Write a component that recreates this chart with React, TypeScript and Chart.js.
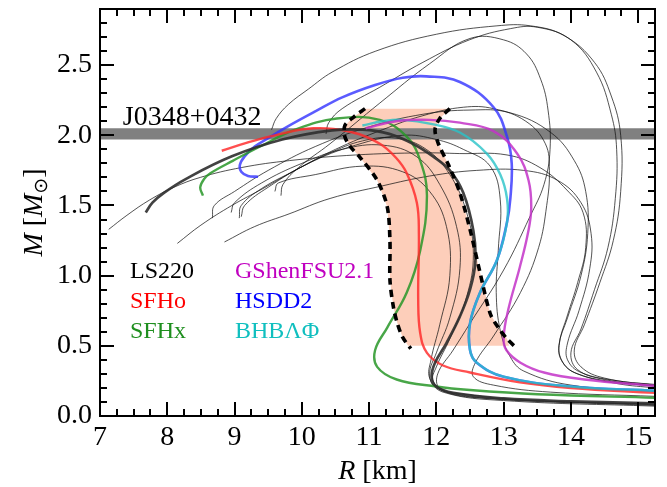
import React, { useEffect, useRef } from 'react';
import { Chart, registerables } from 'chart.js';

Chart.register(...registerables);

type Pt = [number, number];

// ---------- axes ----------
const X_RANGE: Pt = [7, 15.25];
const Y_RANGE: Pt = [0, 2.9];
const X_TICKS = [7, 8, 9, 10, 11, 12, 13, 14, 15];
const Y_TICKS = [0, 0.5, 1.0, 1.5, 2.0, 2.5];
const X_MINOR_STEP = 0.25;
const Y_MINOR_STEP = 0.1;

// ---------- pulsar band ----------
const J0348_BAND: Pt = [1.97, 2.05];
const J0348_LABEL = 'J0348+0432';
const J0348_LABEL_AT: Pt = [7.34, 2.075];

// ---------- highlighted EOS (legend) ----------
const LEGEND_NAMES = ['LS220', 'SFHo', 'SFHx', 'GShenFSU2.1', 'HSDD2', 'BHBΛΦ'];

const LS220: Pt[] = [[7.68,1.45],[7.78,1.52],[7.95,1.59],[8.28,1.69],[8.96,1.85],[9.71,1.97],[10.45,2.035],[10.9,2.04],[11.3,2.01],[11.65,1.94],[11.95,1.85],[12.2,1.75],[12.4,1.59],[12.55,1.32],[12.58,1.1],[12.5,0.9],[12.35,0.71],[12.15,0.52],[11.98,0.38],[11.93,0.28],[12.0,0.21],[12.25,0.165],[13.0,0.125],[14.0,0.105],[15.25,0.09]];
const SFHo: Pt[] = [[8.81,1.89],[9.2,1.95],[9.6,2.0],[10.17,2.05],[10.76,2.02],[11.16,1.94],[11.4,1.84],[11.56,1.73],[11.71,1.52],[11.74,1.3],[11.73,0.83],[11.76,0.59],[11.86,0.45],[12.1,0.36],[12.5,0.31],[13.24,0.24],[14.0,0.2],[15.25,0.165]];
const SFHx: Pt[] = [[8.53,1.57],[8.49,1.63],[8.55,1.69],[8.64,1.73],[8.98,1.82],[9.38,1.92],[9.9,2.04],[10.52,2.12],[11.16,2.11],[11.56,1.99],[11.76,1.82],[11.86,1.57],[11.76,1.18],[11.56,0.88],[11.27,0.63],[11.09,0.47],[11.12,0.35],[11.41,0.26],[12.0,0.21],[12.5,0.185],[13.5,0.155],[15.25,0.13]];
const GShenFSU21: Pt[] = [[10.95,2.05],[11.4,2.1],[11.9,2.11],[12.35,2.09],[12.85,2.03],[13.2,1.87],[13.37,1.68],[13.41,1.48],[13.36,1.3],[13.24,1.06],[13.07,0.76],[13.0,0.56],[13.04,0.47],[13.25,0.38],[13.6,0.31],[14.2,0.26],[15.25,0.215]];
const HSDD2: Pt[] = [[9.35,1.705],[9.2,1.71],[9.1,1.74],[9.08,1.79],[9.15,1.85],[9.3,1.92],[9.5,1.98],[9.78,2.06],[10.2,2.17],[10.6,2.27],[11.1,2.36],[11.5,2.41],[11.85,2.42],[12.35,2.38],[12.85,2.2],[13.05,1.99],[13.12,1.8],[13.1,1.55],[13.05,1.38],[12.9,1.11],[12.65,0.88],[12.5,0.66],[12.5,0.47],[12.6,0.38],[13.0,0.28],[14.0,0.21],[15.25,0.18]];
const BHBLP: Pt[] = [[10.9,2.07],[11.2,2.1],[11.5,2.11],[11.94,2.08],[12.35,2.02],[12.75,1.87],[12.95,1.72],[13.05,1.55],[13.05,1.38],[12.9,1.11],[12.65,0.88],[12.5,0.66],[12.5,0.47],[12.6,0.38],[13.0,0.28],[14.0,0.21],[15.25,0.18]];

// ---------- other EOS (thin black) ----------
const EOS_B1: Pt[] = [[9.55,2.04],[9.62,2.12],[9.8,2.22],[10.1,2.33],[10.45,2.45],[11.1,2.6],[12.0,2.72],[12.9,2.78],[13.4,2.78],[13.9,2.71],[14.35,2.52],[14.6,2.28],[14.74,2.0],[14.74,1.6],[14.63,1.25],[14.43,0.95],[14.2,0.65],[14.05,0.47],[14.15,0.35],[14.5,0.27],[15.25,0.22]];
const EOS_B2: Pt[] = [[10.36,2.01],[10.4,2.09],[10.6,2.19],[11.15,2.34],[11.8,2.52],[12.49,2.68],[13.1,2.76],[13.5,2.77],[14.0,2.68],[14.38,2.45],[14.6,2.15],[14.68,1.9],[14.66,1.55],[14.55,1.2],[14.35,0.9],[14.15,0.62],[14.0,0.45],[14.1,0.33],[14.5,0.26],[15.25,0.21]];
const EOS_B3: Pt[] = [[9.69,1.57],[9.72,1.65],[9.95,1.77],[10.42,1.94],[11.16,2.23],[11.9,2.51],[12.5,2.69],[13.0,2.68],[13.34,2.58],[13.55,2.4],[13.66,2.18],[13.69,1.9],[13.6,1.65],[13.39,1.42],[13.0,1.04],[12.5,0.66],[12.25,0.47],[12.02,0.3],[12.05,0.2],[12.5,0.15],[13.5,0.11],[15.25,0.085]];
const EOS_C: Pt[] = [[9.07,1.41],[9.1,1.5],[9.4,1.62],[9.9,1.75],[10.5,1.9],[11.2,2.04],[11.8,2.14],[12.4,2.2],[12.85,2.19],[13.33,2.1],[13.62,1.94],[13.68,1.75],[13.64,1.5],[13.52,1.2],[13.25,0.88],[12.85,0.57],[12.58,0.38],[12.55,0.28],[12.85,0.22],[13.7,0.17],[15.25,0.14]];
const EOS_E: Pt[] = [[8.67,1.41],[8.7,1.5],[9.0,1.6],[9.5,1.75],[10.2,1.92],[11.0,2.06],[11.8,2.15],[12.5,2.18],[13.1,2.16],[13.7,2.02],[14.05,1.82],[14.22,1.6],[14.25,1.3],[14.15,1.0],[13.95,0.7],[13.82,0.5],[13.88,0.38],[14.1,0.3],[14.7,0.23],[15.25,0.2]];
const EOS_A: Pt[] = [[7.13,1.33],[7.4,1.43],[7.74,1.54],[8.1,1.63],[8.49,1.7],[9.1,1.77],[9.82,1.82],[10.8,1.86],[11.8,1.875],[12.34,1.87],[13.05,1.86],[13.54,1.77],[13.94,1.61],[14.18,1.45],[14.22,1.2],[14.1,0.95],[13.95,0.72],[13.83,0.52],[13.86,0.4],[14.05,0.31],[14.6,0.245],[15.25,0.215]];
const EOS_D: Pt[] = [[8.85,1.24],[9.3,1.35],[9.81,1.44],[10.42,1.55],[11.2,1.64],[11.9,1.71],[12.6,1.75],[13.3,1.75],[13.8,1.68],[14.15,1.52],[14.3,1.3],[14.28,1.05],[14.12,0.75],[13.95,0.52],[13.95,0.4],[14.15,0.31],[14.7,0.25],[15.25,0.225]];
const EOS_MB: Pt[] = [[8.15,1.23],[8.5,1.36],[8.96,1.5],[9.42,1.62],[9.9,1.75],[10.4,1.87],[10.9,1.96],[11.4,1.98],[11.85,1.9],[12.2,1.72],[12.45,1.45],[12.55,1.15],[12.45,0.85],[12.2,0.55],[12.0,0.35],[11.95,0.25],[12.15,0.17],[13.0,0.12],[15.25,0.08]];
const EOS_X1: Pt[] = [[8.95,1.45],[9.0,1.52],[9.4,1.66],[10.0,1.8],[10.6,1.9],[11.2,1.93],[11.7,1.85],[12.05,1.65],[12.3,1.35],[12.35,1.05],[12.2,0.7],[12.0,0.45],[11.9,0.3],[12.0,0.2],[12.6,0.13],[15.25,0.075]];
const EOS_X2: Pt[] = [[9.6,1.6],[9.65,1.66],[10.2,1.72],[10.9,1.78],[11.5,1.74],[11.9,1.6],[12.15,1.35],[12.2,1.0],[12.05,0.65],[11.92,0.4],[11.9,0.27],[12.1,0.17],[13.0,0.11],[15.25,0.07]];
const EOS_X3: Pt[] = [[9.1,1.42],[9.15,1.5],[9.5,1.63],[10.1,1.8],[10.8,1.93],[11.5,2.0],[12.0,1.97],[12.4,1.9],[12.8,1.78],[12.95,1.54],[12.92,1.18],[12.89,0.88],[12.95,0.61],[13.1,0.42],[13.3,0.32],[14.0,0.22],[15.25,0.175]];

// ---------- constraint region ----------
const DASH_LEFT: Pt[] = [[10.94,2.19],[10.77,2.13],[10.64,2.07],[10.64,1.99],[10.72,1.92],[10.87,1.84],[11.12,1.68],[11.27,1.49],[11.31,1.25],[11.31,0.97],[11.36,0.78],[11.42,0.66],[11.5,0.56],[11.62,0.48]];
const DASH_RIGHT: Pt[] = [[12.2,2.19],[12.05,2.12],[11.98,2.04],[12.03,1.94],[12.18,1.79],[12.35,1.59],[12.5,1.33],[12.65,1.02],[12.8,0.73],[12.92,0.63],[13.05,0.55],[13.2,0.48]];
const PINK_MIN_M = 0.5;
const PINK_BOTTOM: Pt[] = [[11.58,0.5],[13.08,0.5]];

const FONT = "'Liberation Serif', 'DejaVu Serif', serif";

const COLORS = {
  LS220: 'rgba(45,45,45,0.9)',
  SFHo: 'rgba(255,40,40,0.82)',
  SFHx: 'rgba(40,150,40,0.85)',
  GShen: 'rgba(195,50,200,0.85)',
  HSDD2: 'rgba(50,50,255,0.8)',
  BHB: 'rgba(40,195,200,0.8)',
  thin: 'rgba(15,15,15,0.8)',
};
const TEXT_COLORS = ['#000000', '#ff0000', '#1f8f1f', '#c000c0', '#0000ff', '#10bfbf'];

const toXY = (arr: Pt[]) => arr.map(([x, y]) => ({ x, y }));

const lineDs = (d: Pt[], color: string, width: number, order: number, extra: any = {}) => ({
  type: 'scatter',
  data: toXY(d),
  showLine: true,
  borderColor: color,
  backgroundColor: color,
  borderWidth: width,
  pointRadius: 0,
  pointHoverRadius: 0,
  tension: 0.4,
  fill: false,
  order,
  ...extra,
});

const decorPlugin = {
  id: 'decor',
  afterDatasetsDraw(chart: any) {
    const { ctx, chartArea: a, scales } = chart;
    const xs = scales.x;
    const ys = scales.y;
    ctx.save();

    // frame
    ctx.strokeStyle = '#000';
    ctx.lineWidth = 2;
    ctx.strokeRect(a.left, a.top, a.right - a.left, a.bottom - a.top);

    // inward ticks on all four sides
    ctx.beginPath();
    const nx = Math.round((X_RANGE[1] - X_RANGE[0]) / X_MINOR_STEP);
    for (let i = 0; i <= nx; i++) {
      const v = X_RANGE[0] + i * X_MINOR_STEP;
      const major = X_TICKS.some((t) => Math.abs(t - v) < 1e-6);
      const len = major ? 14 : 7;
      const px = Math.round(xs.getPixelForValue(v));
      ctx.moveTo(px, a.bottom);
      ctx.lineTo(px, a.bottom - len);
      ctx.moveTo(px, a.top);
      ctx.lineTo(px, a.top + len);
    }
    const ny = Math.round((Y_RANGE[1] - Y_RANGE[0]) / Y_MINOR_STEP);
    for (let i = 0; i <= ny; i++) {
      const v = Y_RANGE[0] + i * Y_MINOR_STEP;
      const major = Y_TICKS.some((t) => Math.abs(t - v) < 1e-6);
      const len = major ? 14 : 7;
      const py = Math.round(ys.getPixelForValue(v));
      ctx.moveTo(a.left, py);
      ctx.lineTo(a.left + len, py);
      ctx.moveTo(a.right, py);
      ctx.lineTo(a.right - len, py);
    }
    ctx.stroke();

    // pulsar label
    ctx.fillStyle = '#000';
    ctx.textBaseline = 'alphabetic';
    ctx.textAlign = 'left';
    ctx.font = `28px ${FONT}`;
    ctx.fillText(J0348_LABEL, xs.getPixelForValue(J0348_LABEL_AT[0]), ys.getPixelForValue(J0348_LABEL_AT[1]));

    // legend (text only, two columns)
    ctx.font = `24px ${FONT}`;
    const colX = [a.left + 30, a.left + 135];
    const rowY = [278, 308, 338];
    LEGEND_NAMES.forEach((name, i) => {
      ctx.fillStyle = TEXT_COLORS[i];
      ctx.fillText(name, colX[Math.floor(i / 3)], rowY[i % 3]);
    });

    // axis titles with mixed styles
    const drawRuns = (runs: { t: string; f: string; dy?: number }[], cx: number, cy: number) => {
      let total = 0;
      for (const r of runs) { ctx.font = r.f; total += ctx.measureText(r.t).width; }
      let x = cx - total / 2;
      for (const r of runs) {
        ctx.font = r.f;
        ctx.fillText(r.t, x, cy + (r.dy || 0));
        x += ctx.measureText(r.t).width;
      }
    };
    ctx.fillStyle = '#000';
    const reg = `28px ${FONT}`;
    const ita = `italic 28px ${FONT}`;
    drawRuns([{ t: 'R', f: ita }, { t: ' [km]', f: reg }], (a.left + a.right) / 2, 479);

    ctx.save();
    ctx.translate(42, (a.top + a.bottom) / 2);
    ctx.rotate(-Math.PI / 2);
    drawRuns([
      { t: 'M', f: ita },
      { t: ' [', f: reg },
      { t: 'M', f: ita },
      { t: '⊙', f: `19px 'DejaVu Sans', ${FONT}`, dy: 5 },
      { t: ']', f: reg },
    ], 0, 0);
    ctx.restore();

    ctx.restore();
  },
};

export default function App() {
  const ref = useRef<HTMLCanvasElement>(null);

  useEffect(() => {
    const canvas = ref.current;
    if (!canvas) return;

    const pinkPoly: Pt[] = [
      ...DASH_LEFT.filter((p) => p[1] >= PINK_MIN_M),
      ...PINK_BOTTOM,
      ...DASH_RIGHT.filter((p) => p[1] >= PINK_MIN_M).reverse(),
    ];

    const thinCurves = [EOS_B1, EOS_B2, EOS_B3, EOS_C, EOS_E, EOS_A, EOS_D, EOS_MB, EOS_X1, EOS_X2, EOS_X3];

    const datasets: any[] = [
      // band top (fills to next dataset)
      lineDs([[X_RANGE[0], J0348_BAND[1]], [X_RANGE[1], J0348_BAND[1]]], 'rgba(0,0,0,0)', 0, 9, {
        fill: '+1', backgroundColor: 'rgb(128,128,128)', tension: 0,
      }),
      lineDs([[X_RANGE[0], J0348_BAND[0]], [X_RANGE[1], J0348_BAND[0]]], 'rgba(0,0,0,0)', 0, 9, { tension: 0 }),
      // pink region
      lineDs(pinkPoly, 'rgba(0,0,0,0)', 0, 10, {
        fill: 'shape', backgroundColor: 'rgb(253,206,186)', tension: 0,
      }),
      ...thinCurves.map((c) => lineDs(c, COLORS.thin, 0.9, 5)),
      lineDs(LS220, COLORS.LS220, 2.7, 2),
      lineDs(SFHo, COLORS.SFHo, 2.4, 2),
      lineDs(SFHx, COLORS.SFHx, 2.4, 2),
      lineDs(HSDD2, COLORS.HSDD2, 2.6, 2),
      lineDs(GShenFSU21, COLORS.GShen, 2.4, 1),
      lineDs(BHBLP, COLORS.BHB, 2.4, 1),
      lineDs(DASH_LEFT, '#000', 3.6, 0, { borderDash: [7, 5], tension: 0.3 }),
      lineDs(DASH_RIGHT, '#000', 3.6, 0, { borderDash: [7, 5], tension: 0.3 }),
    ];

    const chart = new Chart(canvas, {
      type: 'scatter',
      data: { datasets },
      options: {
        animation: false,
        responsive: false,
        devicePixelRatio: 1,
        events: [],
        layout: { padding: { top: 9, right: 12, left: 0, bottom: 0 } },
        plugins: { legend: { display: false }, tooltip: { enabled: false } },
        scales: {
          x: {
            type: 'linear',
            min: X_RANGE[0],
            max: X_RANGE[1],
            grid: { display: false, drawTicks: false },
            border: { display: false },
            ticks: {
              font: { family: FONT, size: 28 },
              color: '#000',
              padding: 5,
              maxRotation: 0,
              autoSkip: false,
              callback: (v: any) => String(v),
            },
            afterBuildTicks: (s: any) => { s.ticks = X_TICKS.map((v) => ({ value: v })); },
            afterFit: (s: any) => { s.height = 71; s.paddingLeft = 0; s.paddingRight = 0; },
          },
          y: {
            type: 'linear',
            min: Y_RANGE[0],
            max: Y_RANGE[1],
            grid: { display: false, drawTicks: false },
            border: { display: false },
            ticks: {
              font: { family: FONT, size: 28 },
              color: '#000',
              padding: 8,
              autoSkip: false,
              callback: (v: any) => Number(v).toFixed(1),
            },
            afterBuildTicks: (s: any) => { s.ticks = Y_TICKS.map((v) => ({ value: v })); },
            afterFit: (s: any) => { s.width = 100; s.paddingTop = 0; s.paddingBottom = 0; },
          },
        },
      },
      plugins: [decorPlugin],
    } as any);

    return () => chart.destroy();
  }, []);

  return (
    <div style={{ position: 'fixed', left: 0, top: 0, width: 667, height: 487, background: '#fff' }}>
      <canvas ref={ref} width={667} height={487} style={{ display: 'block', width: 667, height: 487 }} />
    </div>
  );
}
